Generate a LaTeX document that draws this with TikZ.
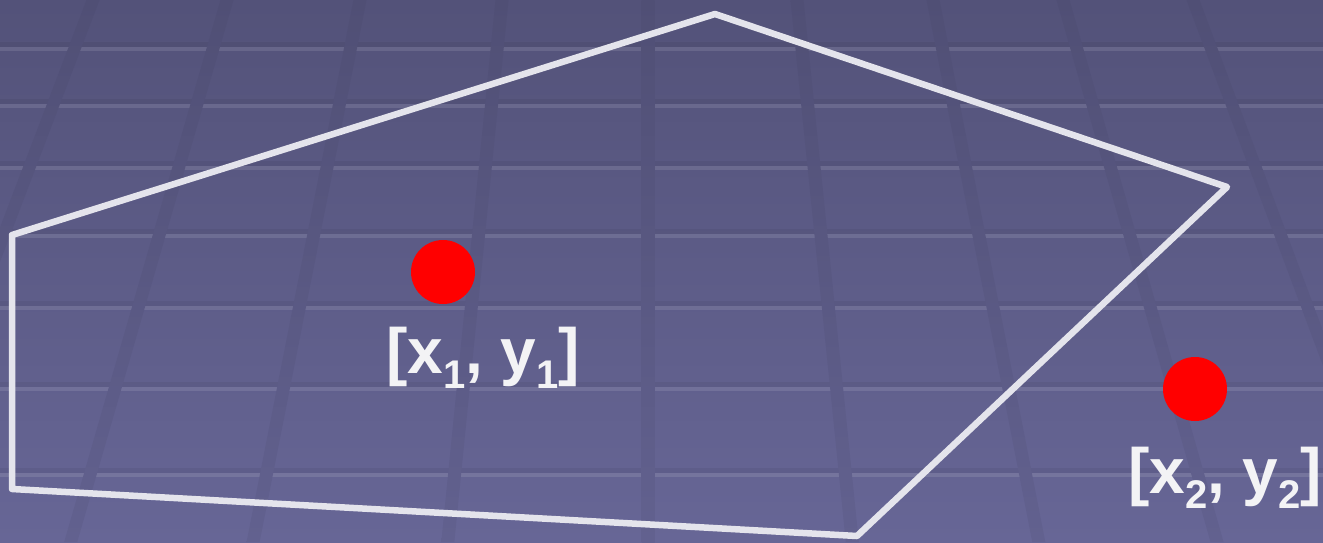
\documentclass[tikz,border=0pt]{standalone}
\usepackage{fontspec}
\setmainfont{Liberation Sans}
\definecolor{bgtop}{RGB}{83,82,121}
\definecolor{bgbot}{RGB}{103,102,150}
\definecolor{vtop}{RGB}{80,79,117}
\definecolor{vbot}{RGB}{98,97,143}
\definecolor{polyline}{RGB}{228,228,236}
\definecolor{labelcol}{RGB}{243,243,245}
\newcommand\subnum[1]{\raisebox{-15pt}{\fontsize{40}{40}\selectfont #1}}
\newcommand\ptlabel[1]{\fontsize{64}{64}\selectfont\bfseries [x\subnum{#1}, y\subnum{#1}]}
\tikzset{
  dot/.style={circle, fill=red, minimum size=64pt, inner sep=0pt},
  ptlbl/.style={anchor=base west, inner sep=0pt, text=labelcol},
  outline/.style={line width=6.5pt, draw=polyline, line join=round}
}
\begin{document}
\begin{tikzpicture}[x=1pt,y=-1pt]
\shade[top color=bgtop, bottom color=bgbot] (0,0) rectangle (1323,542);
\useasboundingbox (0,0) rectangle (1323,542);
% horizontal grid lines
\foreach \yy in {48,105,167,235,307,388,474} {
  \fill[black, opacity=0.05] (0,\yy-6) rectangle (1323,\yy-1);
  \fill[white, opacity=0.11] (0,\yy-1) rectangle (1323,\yy+3);
}
% perspective grid lines
\foreach \xx in {93,227,360,502,648,797,933,1063,1193} {
  \pgfmathsetmacro\xb{\xx+(\xx-648)*0.3712}
  \shade[top color=vtop, bottom color=vbot] (\xx-6.5,0) -- (\xx+6.5,0) -- (\xb+6.5,542) -- (\xb-6.5,542) -- cycle;
}
% polygon
\coordinate (v1) at (715,14);
\coordinate (v2) at (1227,187);
\coordinate (v3) at (857,536);
\coordinate (v4) at (12,489);
\coordinate (v5) at (12,235);
\draw[outline] (v1) -- (v2) -- (v3) -- (v4) -- (v5) -- cycle;
% points
\node[dot] (p1) at (443,272) {};
\node[dot] (p2) at (1195,389) {};
\node[ptlbl] (l1) at (386,373) {\ptlabel{1}};
\node[ptlbl] (l2) at (1128,493) {\ptlabel{2}};
\end{tikzpicture}
\end{document}
